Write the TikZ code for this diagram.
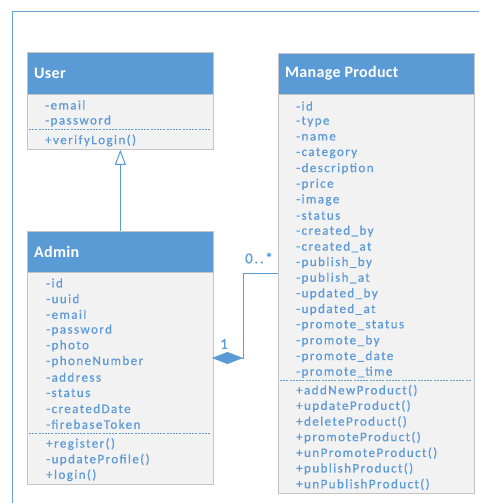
\documentclass[tikz,border=0pt]{standalone}
\usepackage{fontspec}
\setmainfont{Carlito}
\newfontfamily\attrfont[LetterSpace=11,FakeBold=0.6]{Carlito}
\newfontfamily\headfont[LetterSpace=2]{Carlito Bold}
\usetikzlibrary{arrows.meta}
\definecolor{hblue}{HTML}{5B9BD5}
\definecolor{tblue}{HTML}{5C9AD8}
\definecolor{bodygray}{HTML}{F2F2F2}
\definecolor{bordergray}{HTML}{C4C4C4}
\definecolor{frameblue}{HTML}{6C9FD6}
\tikzset{
  x=1pt, y=-1pt,
  headbox/.style={draw=bordergray, fill=hblue, line width=0.8pt, inner sep=0pt, anchor=north west},
  bodybox/.style={draw=bordergray, fill=bodygray, line width=0.8pt, inner sep=0pt, anchor=north west},
  title/.style={anchor=west, text=white, font=\headfont\fontsize{16}{18}\selectfont, inner sep=0pt},
  attr/.style={anchor=west, text=tblue, font=\attrfont\fontsize{13}{15}\selectfont, inner sep=0pt},
  sep/.style={draw=tblue, dash pattern=on 2pt off 1.2pt, line width=0.8pt},
  conn/.style={draw=hblue, line width=1pt},
  mult/.style={text=tblue, font=\attrfont\fontsize{15}{17}\selectfont, inner sep=0pt},
}
\begin{document}
\begin{tikzpicture}
\useasboundingbox (0,0) rectangle (479,503);
\fill[white] (0,0) rectangle (479,503);
% outer frame
\draw[frameblue, line width=0.8pt] (12,503) -- (12,11) -- (479,11);

% User class
\node[bodybox, minimum width=186pt, minimum height=55pt] (userbody) at (27,94) {};
\node[headbox, minimum width=186pt, minimum height=42pt] (userhead) at (27,52) {};
\node[title] (usertitle) at (34,73) {User};
\node[attr] (u1) at (45,105) {-email};
\node[attr] (u2) at (45,121) {-password};
\draw[sep] (29,129.5) -- (211,129.5);
\node[attr] (u3) at (45,140.5) {+verifyLogin()};

% Admin class
\node[bodybox, minimum width=186pt, minimum height=212pt] (adminbody) at (27,272) {};
\node[headbox, minimum width=186pt, minimum height=41pt] (adminhead) at (27,231) {};
\node[title] (admintitle) at (34,252) {Admin};
\foreach \t [count=\i from 0] in {-id,-uuid,-email,-password,-photo,-phoneNumber,-address,-status,-createdDate,-firebaseToken}
  \node[attr] (a\i) at (46,283+\i*15.7) {\t};
\draw[sep] (29,433.5) -- (211,433.5);
\foreach \t [count=\i from 0] in {+register(),-updateProfile(),+login()}
  \node[attr] (am\i) at (46,444+\i*15.6) {\t};

% Manage Product class
\node[bodybox, minimum width=196pt, minimum height=399pt] (mpbody) at (278,94) {};
\node[headbox, minimum width=196pt, minimum height=41pt] (mphead) at (278,53) {};
\node[title] (mptitle) at (285,73.5) {Manage Product};
\foreach \t [count=\i from 0] in {-id,-type,-name,-category,-description,-price,-image,-status,-created\_by,-created\_at,-publish\_by,-publish\_at,-updated\_by,-updated\_at,-promote\_status,-promote\_by,-promote\_date,-promote\_time}
  \node[attr] (p\i) at (296,106+\i*15.66) {\t};
\draw[sep] (280,380.5) -- (472,380.5);
\foreach \t [count=\i from 0] in {+addNewProduct(),+updateProduct(),+deleteProduct(),+promoteProduct(),+unPromoteProduct(),+publishProduct(),+unPublishProduct()}
  \node[attr] (pm\i) at (296,390.5+\i*15.65) {\t};

% generalization Admin -> User
\draw[conn, -{Triangle[open, length=15pt, width=11pt, line width=1pt]}] (adminhead.north) -- (userbody.south);

% composition Admin <>-- Manage Product
\coordinate (bend1) at (243,273);
\coordinate (dtip) at (212,358);
\draw[conn, -{Diamond[length=31pt, width=12pt, fill=hblue, line width=0.5pt]}] (mpbody.west |- bend1) -- (bend1) -- (bend1 |- dtip) -- (dtip);
\node[mult, anchor=west] (m0) at (245,258) {0..*};
\node[mult, anchor=west] (m1) at (220,344) {1};
\end{tikzpicture}
\end{document}
